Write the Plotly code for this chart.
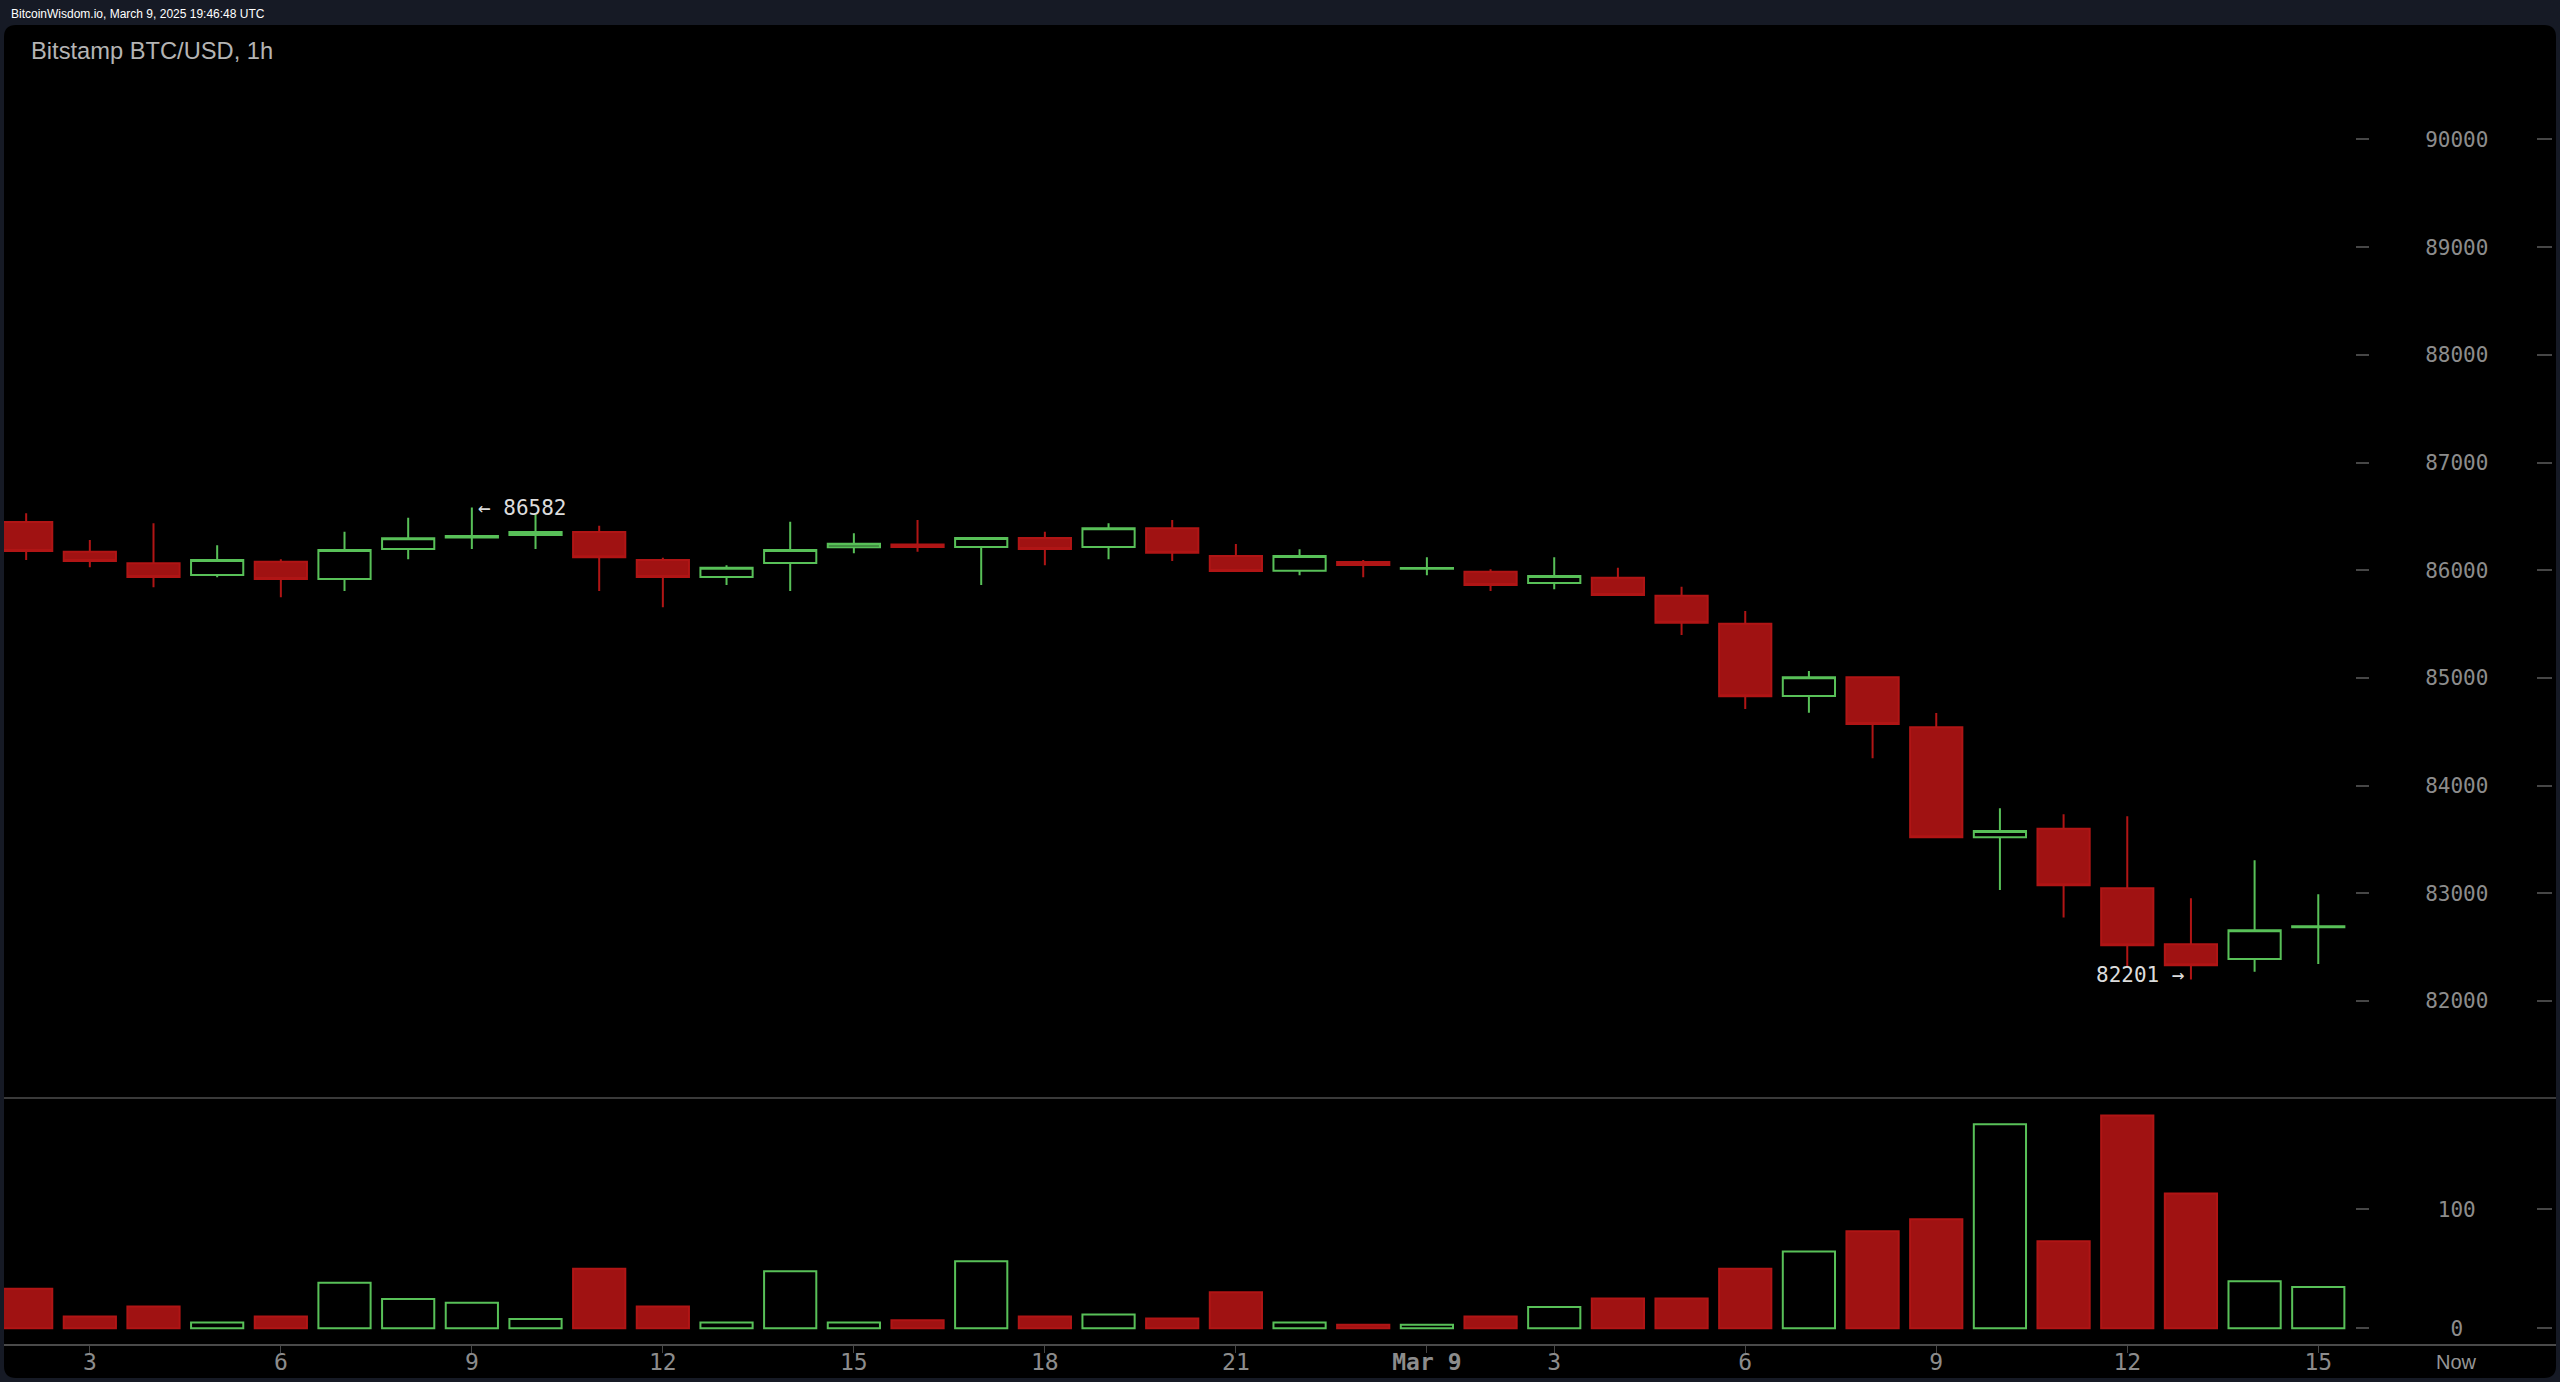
import plotly.graph_objects as go

W, H = 2560, 1382

# ---- data (hourly candles, UTC timestamps) ----
times = [
    "2025-03-08 07:00", "2025-03-08 08:00", "2025-03-08 09:00", "2025-03-08 10:00",
    "2025-03-08 11:00", "2025-03-08 12:00", "2025-03-08 13:00", "2025-03-08 14:00",
    "2025-03-08 15:00", "2025-03-08 16:00", "2025-03-08 17:00", "2025-03-08 18:00",
    "2025-03-08 19:00", "2025-03-08 20:00", "2025-03-08 21:00", "2025-03-08 22:00",
    "2025-03-08 23:00", "2025-03-09 00:00", "2025-03-09 01:00", "2025-03-09 02:00",
    "2025-03-09 03:00", "2025-03-09 04:00", "2025-03-09 05:00", "2025-03-09 06:00",
    "2025-03-09 07:00", "2025-03-09 08:00", "2025-03-09 09:00", "2025-03-09 10:00",
    "2025-03-09 11:00", "2025-03-09 12:00", "2025-03-09 13:00", "2025-03-09 14:00",
    "2025-03-09 15:00", "2025-03-09 16:00", "2025-03-09 17:00", "2025-03-09 18:00",
    "2025-03-09 19:00",
]
open_ = [86448, 86173, 86065, 85956, 86080, 85919, 86198, 86305, 86328, 86356,
         86096, 85938, 86068, 86214, 86240, 86216, 86300, 86216, 86390, 86133,
         85996, 86078, 86015, 85987, 85882, 85931, 85764, 85504, 84833, 85007,
         84542, 83521, 83601, 83047, 82527, 82391, 82685]
high = [86529, 86281, 86436, 86232, 86102, 86358, 86488, 86582, 86520, 86414,
        86117, 86046, 86451, 86343, 86467, 86305, 86358, 86436, 86467, 86244,
        86195, 86096, 86121, 86009, 86121, 86024, 85848, 85622, 85065, 85010,
        84675, 83790, 83734, 83716, 82955, 83307, 82992]
low = [86096, 86028, 85842, 85935, 85749, 85808, 86102, 86198, 86198, 85808,
       85656, 85864, 85808, 86158, 86173, 85864, 86046, 86102, 86086, 85990,
       85954, 85935, 85954, 85808, 85824, 85765, 85399, 84712, 84678, 84254,
       83515, 83032, 82775, 82326, 82201, 82273, 82344]
close = [86179, 86086, 85938, 86096, 85919, 86188, 86297, 86318, 86355, 86121,
         85938, 86024, 86188, 86247, 86215, 86300, 86198, 86390, 86163, 85994,
         86133, 86050, 86022, 85864, 85947, 85771, 85513, 84830, 85007, 84573,
         83521, 83579, 83075, 82518, 82332, 82657, 82695]
volume = [33.3, 9.8, 18.2, 4.8, 9.8, 38.3, 24.6, 21.5, 7.8, 50.0,
          18.2, 4.8, 48.0, 4.8, 6.7, 56.4, 9.8, 11.5, 8.1, 30.2,
          4.8, 3.0, 3.0, 9.8, 17.9, 24.9, 24.9, 50.0, 64.5, 81.6,
          91.6, 171.6, 73.2, 178.8, 113.2, 39.6, 34.6]

# x tick labels (local exchange time; DST jump on Mar 9)
x_tick_times = ["2025-03-08 08:00", "2025-03-08 11:00", "2025-03-08 14:00", "2025-03-08 17:00",
                "2025-03-08 20:00", "2025-03-08 23:00", "2025-03-09 02:00", "2025-03-09 05:00",
                "2025-03-09 07:00", "2025-03-09 10:00", "2025-03-09 13:00", "2025-03-09 16:00",
                "2025-03-09 19:00"]
x_tick_text = ["3", "6", "9", "12", "15", "18", "21", "<b>Mar 9</b>", "3", "6", "9", "12", "15"]
price_ticks = [82000, 83000, 84000, 85000, 86000, 87000, 88000, 89000, 90000]
price_tick_text = ["82000", "83000", "84000", "85000", "86000", "87000", "88000", "89000", "90000"]
vol_ticks = [0, 100]
vol_tick_text = ["\u00a0\u00a00", "\u00a0100"]
high_label = "\u2190 86582"
low_label = "82201 \u2192"

# ---- styling ----
BG = "#161a25"
RED = "#a01212"
RED_LINE = "#b01515"
GREEN = "#58c058"
AXIS = "#464646"
TICKFONT = dict(family="DejaVu Sans Mono", size=21, color="#8c8c8c")


def fx(px):
    return px / W


def fy(py):
    return 1 - py / H


up = [c >= o for o, c in zip(open_, close)]
bar_fill = ["rgba(0,0,0,0)" if u else RED for u in up]
bar_line = [GREEN if u else RED_LINE for u in up]

fig = go.Figure()
fig.add_trace(go.Candlestick(
    x=times, open=open_, high=high, low=low, close=close,
    increasing=dict(line=dict(color=GREEN, width=2), fillcolor="rgba(0,0,0,0)"),
    decreasing=dict(line=dict(color=RED_LINE, width=2), fillcolor=RED),
    xaxis="x", yaxis="y", showlegend=False, hoverinfo="skip",
))
fig.add_trace(go.Bar(
    x=times, y=volume, width=0.82 * 3600000,
    marker=dict(color=bar_fill, line=dict(color=bar_line, width=2)),
    xaxis="x", yaxis="y2", showlegend=False, hoverinfo="skip",
))
# helper traces so the right-edge tick dashes get drawn
fig.add_trace(go.Scatter(x=[None], y=[None], xaxis="x", yaxis="y3", showlegend=False, hoverinfo="skip"))
fig.add_trace(go.Scatter(x=[None], y=[None], xaxis="x", yaxis="y4", showlegend=False, hoverinfo="skip"))

price_range = [81100, 91063]
vol_range = [-14.1, 193.6]

fig.update_layout(
    width=W, height=H,
    margin=dict(l=0, r=0, t=0, b=0),
    paper_bgcolor=BG, plot_bgcolor="rgba(0,0,0,0)",
    boxgap=0.18, boxgroupgap=0,
    bargap=0,
    xaxis=dict(
        domain=[fx(4), fx(2355)], anchor="y2", type="date",
        range=["2025-03-08 06:39:07", "2025-03-09 19:34:37"],
        tickvals=x_tick_times, ticktext=x_tick_text,
        ticks="outside", ticklen=7, tickcolor=AXIS, tickwidth=1,
        tickfont=dict(family="DejaVu Sans Mono", size=23, color="#8c8c8c"),
        ticklabelstandoff=-11,
        showgrid=False, zeroline=False, showline=False,
        rangeslider=dict(visible=False), fixedrange=True,
    ),
    yaxis=dict(
        domain=[fy(1098), fy(25)], anchor="x", side="right",
        range=price_range, tickvals=price_ticks, ticktext=price_tick_text,
        ticks="outside", ticklen=13, tickcolor=AXIS, tickwidth=2,
        tickfont=TICKFONT, ticklabelstandoff=52,
        showgrid=False, zeroline=False, showline=False, fixedrange=True,
    ),
    yaxis2=dict(
        domain=[fy(1345), fy(1098)], anchor="x", side="right",
        range=vol_range, tickvals=vol_ticks, ticktext=vol_tick_text,
        ticks="outside", ticklen=13, tickcolor=AXIS, tickwidth=2,
        tickfont=TICKFONT, ticklabelstandoff=52,
        showgrid=False, zeroline=False, showline=False, fixedrange=True,
    ),
    yaxis3=dict(
        overlaying="y", anchor="free", position=fx(2536), side="right",
        range=price_range, tickvals=price_ticks, showticklabels=False,
        ticks="outside", ticklen=15, tickcolor=AXIS, tickwidth=2,
        showgrid=False, zeroline=False, showline=False, fixedrange=True,
    ),
    yaxis4=dict(
        overlaying="y2", anchor="free", position=fx(2536), side="right",
        range=vol_range, tickvals=vol_ticks, showticklabels=False,
        ticks="outside", ticklen=15, tickcolor=AXIS, tickwidth=2,
        showgrid=False, zeroline=False, showline=False, fixedrange=True,
    ),
)

# rounded black chart panel
x0, x1, y0, y1, r = 4, 2556, 25, 1378, 12
rx, ry = r / W, r / H
path = (
    f"M {fx(x0)+rx},{fy(y0)} L {fx(x1)-rx},{fy(y0)} Q {fx(x1)},{fy(y0)} {fx(x1)},{fy(y0)-ry} "
    f"L {fx(x1)},{fy(y1)+ry} Q {fx(x1)},{fy(y1)} {fx(x1)-rx},{fy(y1)} "
    f"L {fx(x0)+rx},{fy(y1)} Q {fx(x0)},{fy(y1)} {fx(x0)},{fy(y1)+ry} "
    f"L {fx(x0)},{fy(y0)-ry} Q {fx(x0)},{fy(y0)} {fx(x0)+rx},{fy(y0)} Z"
)
fig.add_shape(type="path", path=path, xref="paper", yref="paper",
              fillcolor="#000000", line=dict(width=0), layer="below")
fig.add_shape(type="line", xref="paper", yref="paper", x0=fx(4), x1=fx(2556),
              y0=fy(1098), y1=fy(1098), line=dict(color="#3a3a3a", width=2))
fig.add_shape(type="line", xref="paper", yref="paper", x0=fx(4), x1=fx(2556),
              y0=fy(1345), y1=fy(1345), line=dict(color="#4a4a4a", width=2))

# texts
fig.add_annotation(xref="paper", yref="paper", x=fx(9), y=fy(14), xanchor="left", yanchor="middle",
                   text="BitcoinWisdom.io, March 9, 2025 19:46:48 UTC", showarrow=False,
                   font=dict(family="Liberation Sans", size=12, color="#ffffff"))
fig.add_annotation(xref="paper", yref="paper", x=fx(29), y=fy(51), xanchor="left", yanchor="middle",
                   text="Bitstamp BTC/USD, 1h", showarrow=False,
                   font=dict(family="Liberation Sans", size=23.7, color="#b4b4b4"))
fig.add_annotation(xref="paper", yref="paper", x=fx(2456), y=fy(1362), xanchor="center", yanchor="middle",
                   text="Now", showarrow=False,
                   font=dict(family="Liberation Sans", size=20, color="#959595"))

i_hi = high.index(max(high))
i_lo = low.index(min(low))
fig.add_annotation(x=times[i_hi], y=high[i_hi], xref="x", yref="y", xanchor="left", yanchor="middle",
                   xshift=4, text=high_label, showarrow=False,
                   font=dict(family="DejaVu Sans Mono", size=21, color="#dcdcdc"))
fig.add_annotation(x=times[i_lo], y=low[i_lo], xref="x", yref="y", xanchor="right", yanchor="middle",
                   xshift=-4, yshift=4, text=low_label, showarrow=False,
                   font=dict(family="DejaVu Sans Mono", size=21, color="#dcdcdc"))

fig.write_html("out.html", config={"displayModeBar": False, "staticPlot": True},
               post_script="document.body.style.margin='0';document.body.style.background='#161a25';")
